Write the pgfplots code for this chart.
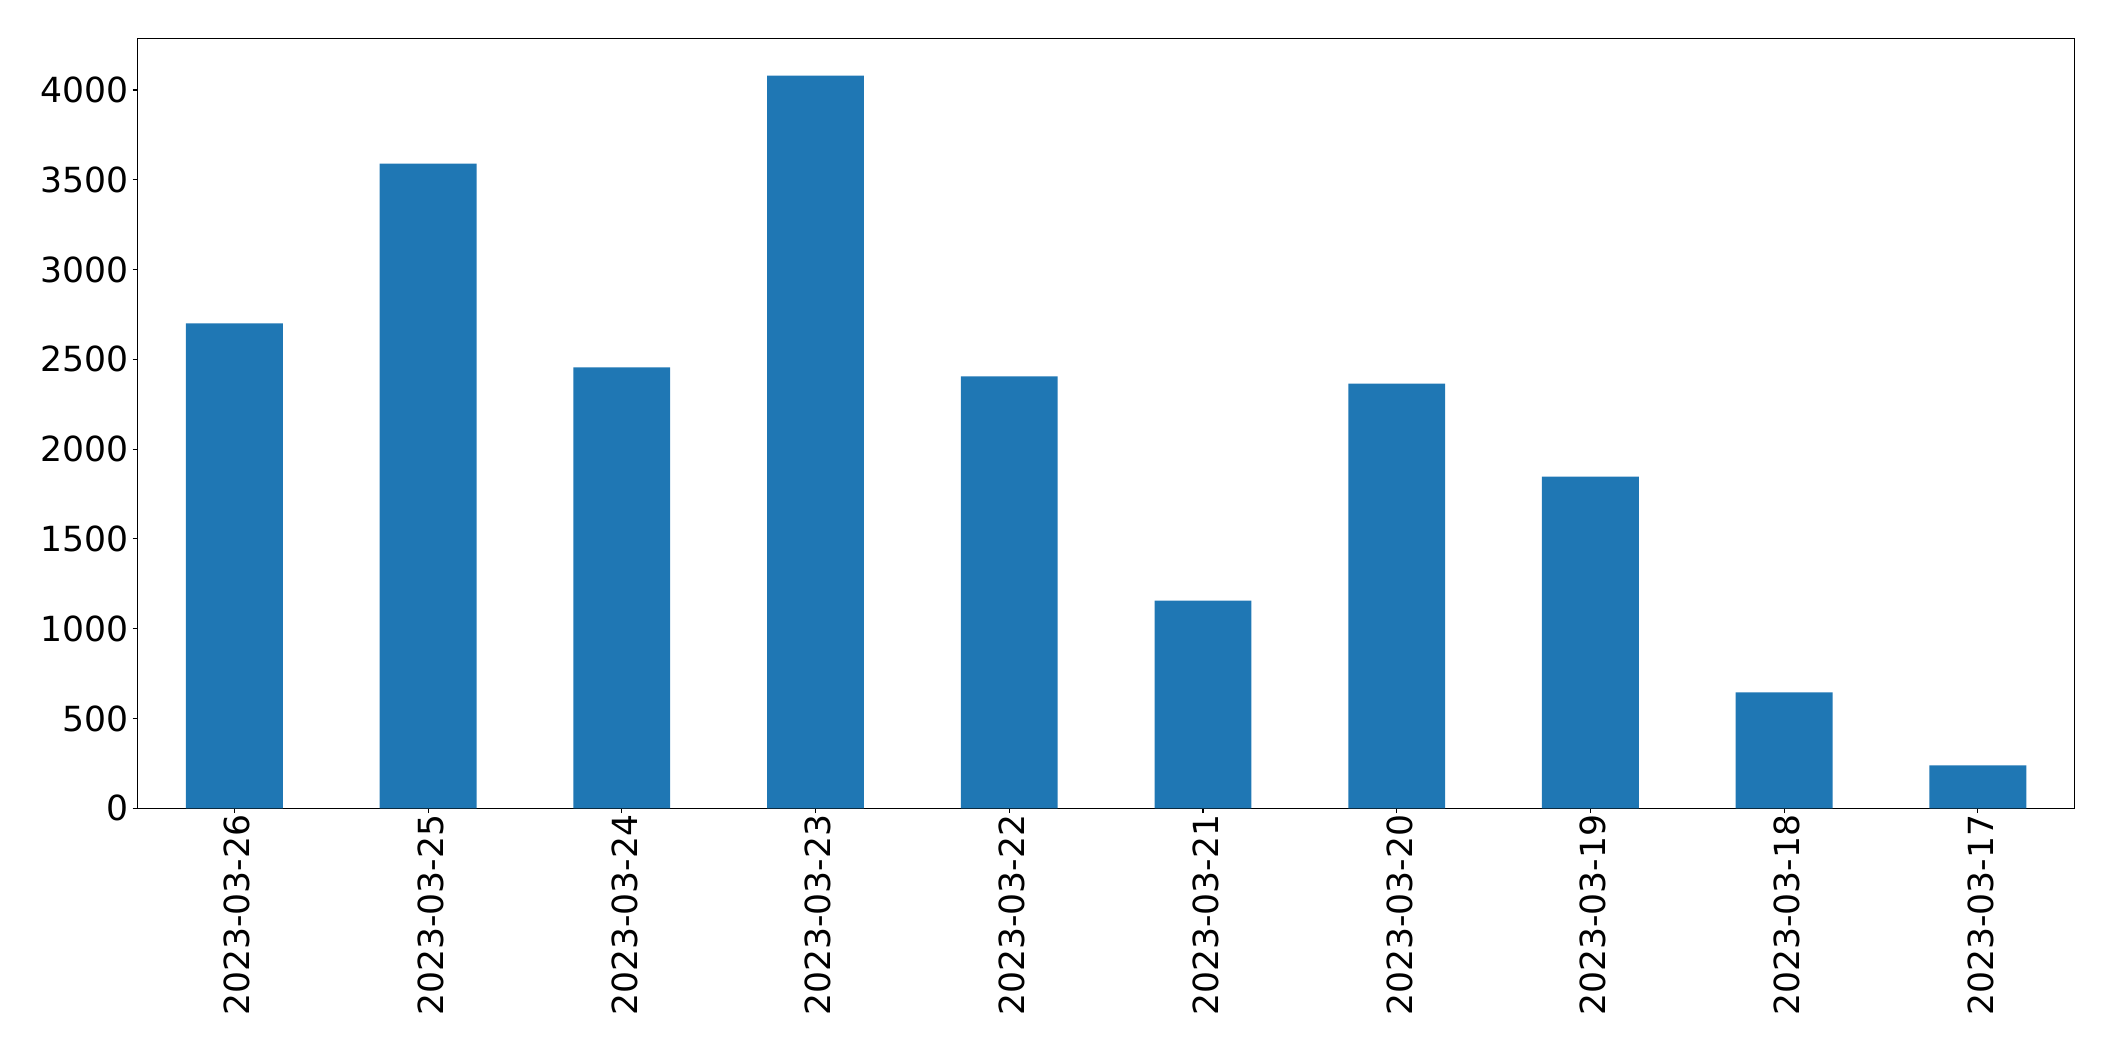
\documentclass[border=0pt]{standalone}
\usepackage{pgfplots}
\pgfplotsset{compat=1.18}
\usepackage{fontspec}
\setmainfont{DejaVu Sans}
\definecolor{tabblue}{HTML}{1F77B4}
\begin{document}
\begin{tikzpicture}
\begin{axis}[
  scale only axis,
  width=1395bp, height=554bp,
  xmin=-0.5, xmax=9.5,
  ymin=0, ymax=4285,
  xtick={0,...,9},
  xticklabels={2023-03-26,2023-03-25,2023-03-24,2023-03-23,2023-03-22,2023-03-21,2023-03-20,2023-03-19,2023-03-18,2023-03-17},
  x tick label style={rotate=90, anchor=east},
  ytick={0,500,...,4000},
  tick label style={font=\fontsize{25}{30}\selectfont},
  /pgf/number format/assume math mode=true,
  /pgf/number format/1000 sep={},
  tick align=outside,
  tick pos=left,
  major tick length=3.5bp,
  tick style={black, line width=0.8bp},
  axis line style={line width=0.8bp},
  xtick pos=bottom, ytick pos=left,
  every tick label/.append style={inner sep=1bp},
  xticklabel style={yshift=-2bp},
  yticklabel style={xshift=-2bp},
]
\addplot[ybar, bar width=0.5, fill=tabblue, draw=none, bar shift=0pt]
coordinates {(0,2700) (1,3590) (2,2455) (3,4080) (4,2405) (5,1157) (6,2365) (7,1847) (8,645) (9,239)};
\end{axis}
\pgfresetboundingbox
\path ([shift={(-99bp,-181bp)}]current axis.south west) rectangle ([shift={(29bp,28bp)}]current axis.north east);
\end{tikzpicture}
\end{document}
